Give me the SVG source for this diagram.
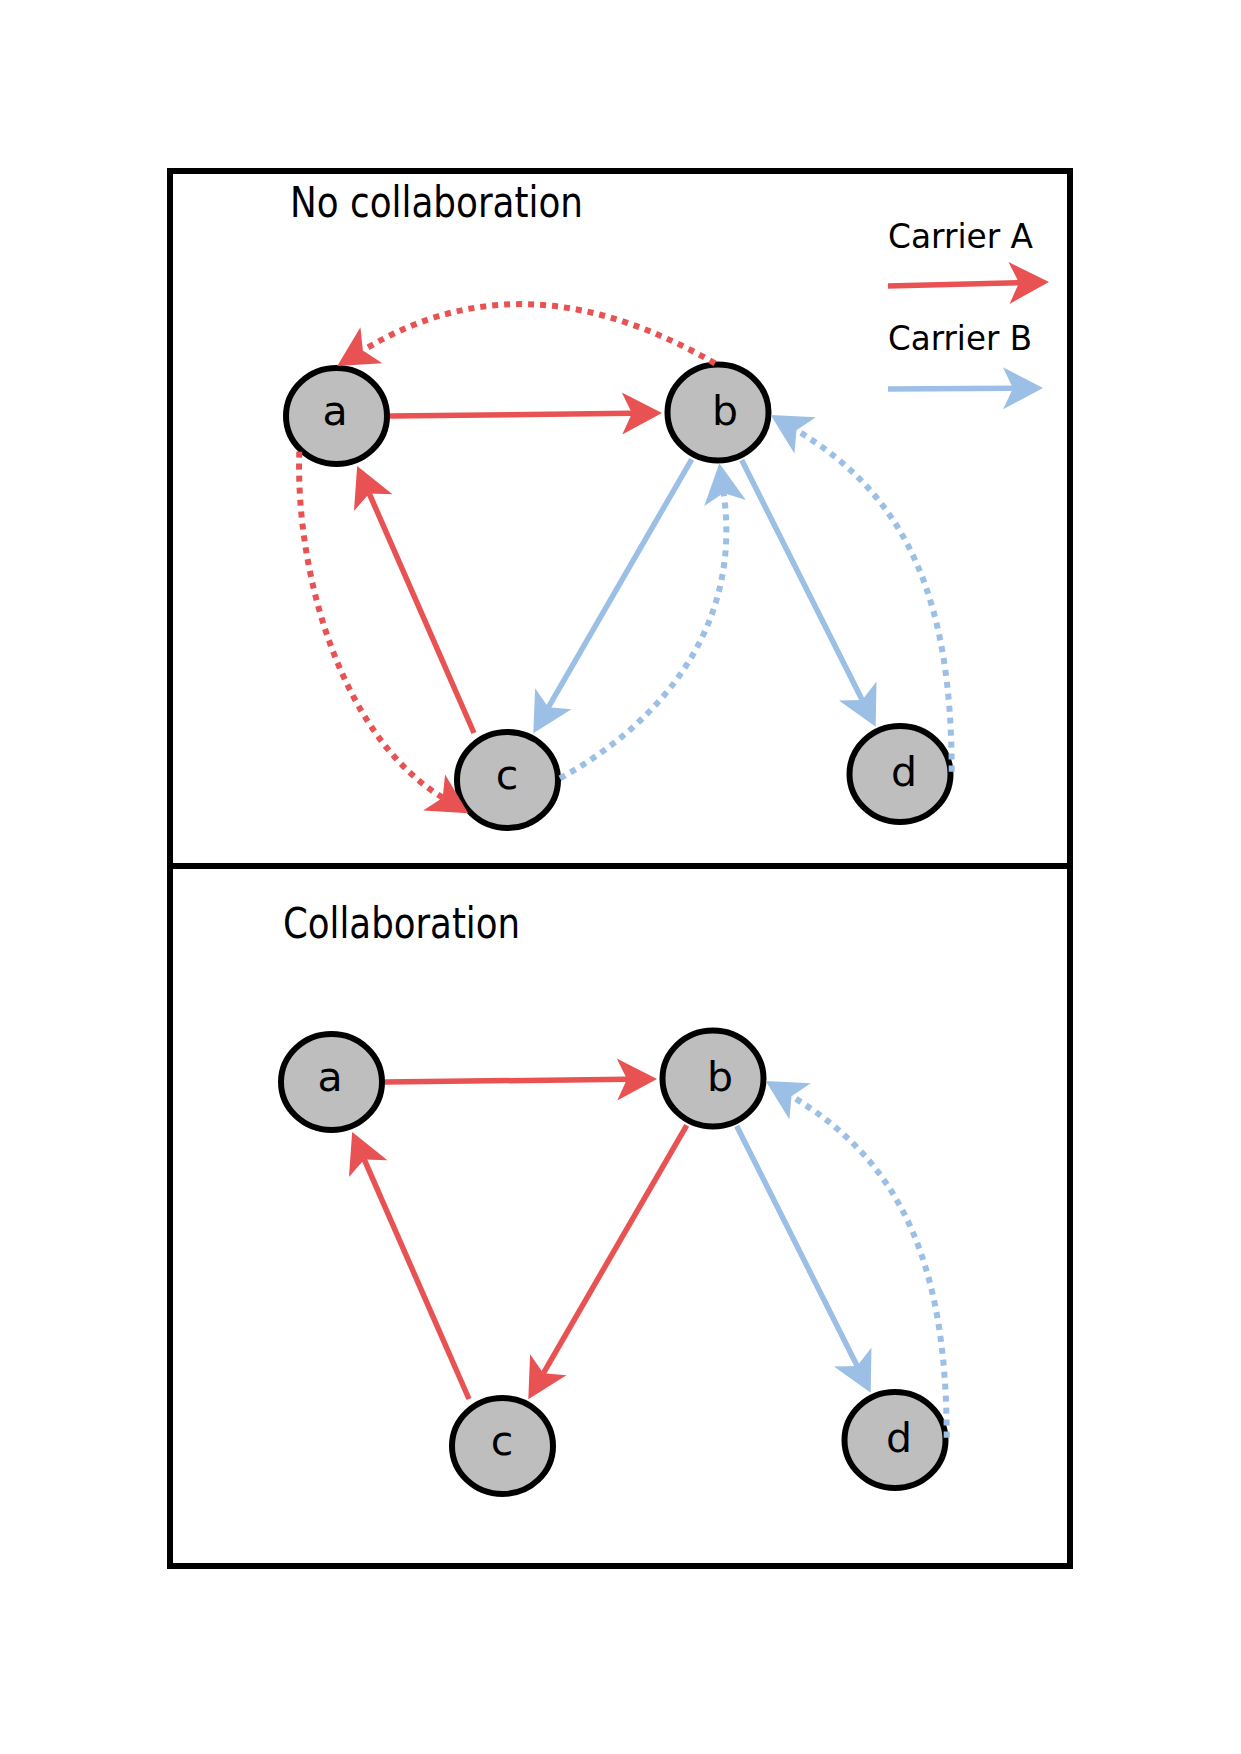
<svg xmlns="http://www.w3.org/2000/svg" width="1241" height="1754" viewBox="0 0 1241 1754">
<style>
.frame{fill:none;stroke:#000;stroke-width:6}
.node{fill:#bebebe;stroke:#000;stroke-width:6}
.lbl{font-family:"DejaVu Sans","Liberation Sans",sans-serif;font-size:41px;fill:#000;text-anchor:middle}
.title{font-family:"DejaVu Sans Condensed","DejaVu Sans","Liberation Sans",sans-serif;font-size:42px;fill:#000}
.legend{font-family:"DejaVu Sans","Liberation Sans",sans-serif;font-size:34px;fill:#000}
.r{fill:none;stroke:#e85252;stroke-width:5.5}
.b{fill:none;stroke:#9cbfe5;stroke-width:5.5}
.dot{stroke-dasharray:6 6;stroke-width:6}
.r{marker-end:url(#arrR)}
.b{marker-end:url(#arrB)}
</style>
<defs>
<marker id="arrR" markerUnits="userSpaceOnUse" markerWidth="44" markerHeight="44" refX="10" refY="22" orient="auto" overflow="visible">
<path d="M0,1 L40,22 L0,43 L10,22 Z" fill="#e85252"/>
</marker>
<marker id="arrB" markerUnits="userSpaceOnUse" markerWidth="44" markerHeight="44" refX="10" refY="22" orient="auto" overflow="visible">
<path d="M0,1 L40,22 L0,43 L10,22 Z" fill="#9cbfe5"/>
</marker>
</defs>
<rect width="1241" height="1754" fill="#fff"/>
<g id="frame">
<rect class="frame" x="170" y="171" width="900" height="1395"/>
<line class="frame" x1="170" y1="866" x2="1070" y2="866"/>
</g>
<g id="titles">
<text class="title" x="290" y="217" textLength="293" lengthAdjust="spacingAndGlyphs">No collaboration</text>
<text class="title" x="283" y="937.5" textLength="237" lengthAdjust="spacingAndGlyphs">Collaboration</text>
</g>
<g id="legend">
<text class="legend" x="888" y="247.5" textLength="145" lengthAdjust="spacingAndGlyphs">Carrier A</text>
<text class="legend" x="888" y="350" textLength="144" lengthAdjust="spacingAndGlyphs">Carrier B</text>
<path class="r" d="M888,286 L1019,282.7"/>
<path class="b" d="M888,389 L1013,388.2"/>
</g>
<g id="top-a"><ellipse class="node" cx="336.5" cy="416" rx="50.5" ry="48"/><text class="lbl" x="335" y="425">a</text></g>
<g id="top-b"><ellipse class="node" cx="718" cy="412.5" rx="50.5" ry="48"/><text class="lbl" x="725" y="425">b</text></g>
<g id="top-c"><ellipse class="node" cx="507.5" cy="780" rx="50.5" ry="48"/><text class="lbl" x="507" y="789">c</text></g>
<g id="top-d"><ellipse class="node" cx="900" cy="774" rx="50.5" ry="48"/><text class="lbl" x="904" y="786">d</text></g>
<g id="bottom-a"><ellipse class="node" cx="331.5" cy="1082" rx="50.5" ry="48"/><text class="lbl" x="330" y="1091">a</text></g>
<g id="bottom-b"><ellipse class="node" cx="713" cy="1078.5" rx="50.5" ry="48"/><text class="lbl" x="720" y="1091">b</text></g>
<g id="bottom-c"><ellipse class="node" cx="502.5" cy="1446" rx="50.5" ry="48"/><text class="lbl" x="502" y="1455">c</text></g>
<g id="bottom-d"><ellipse class="node" cx="895" cy="1440" rx="50.5" ry="48"/><text class="lbl" x="899" y="1452">d</text></g>
<g id="connectors">
<path class="r" d="M390,416 L632,413.3"/>
<path class="r" d="M474,733 L369.2,493.4"/>
<path class="b" d="M691.7,459.3 L548.3,707.3"/>
<path class="b dot" d="M560,778.3 C665.6,720.4 742.1,621.7 723.6,493"/>
<path class="r dot" d="M299.3,451.7 C295.4,572 340.2,735.3 442.7,797.7"/>
<path class="r dot" d="M715,363.3 C593.24,293.32 476.97,280.89 362.84,350.44"/>
<path class="b" d="M741.7,460 L862.2,699.9"/>
<path class="b dot" d="M951.7,771.7 C951.7,601.7 908.3,496.6 796.5,430.3"/>
<path class="r" d="M385,1082 L627,1079.3"/>
<path class="r" d="M469,1399 L364.2,1159.4"/>
<path class="r" d="M686.7,1125.3 L543.3,1373.3"/>
<path class="b" d="M736.7,1126 L857.2,1365.9"/>
<path class="b dot" d="M946.7,1437.7 C946.7,1267.7 903.3,1162.6 791.5,1096.3"/>
</g>
</svg>
